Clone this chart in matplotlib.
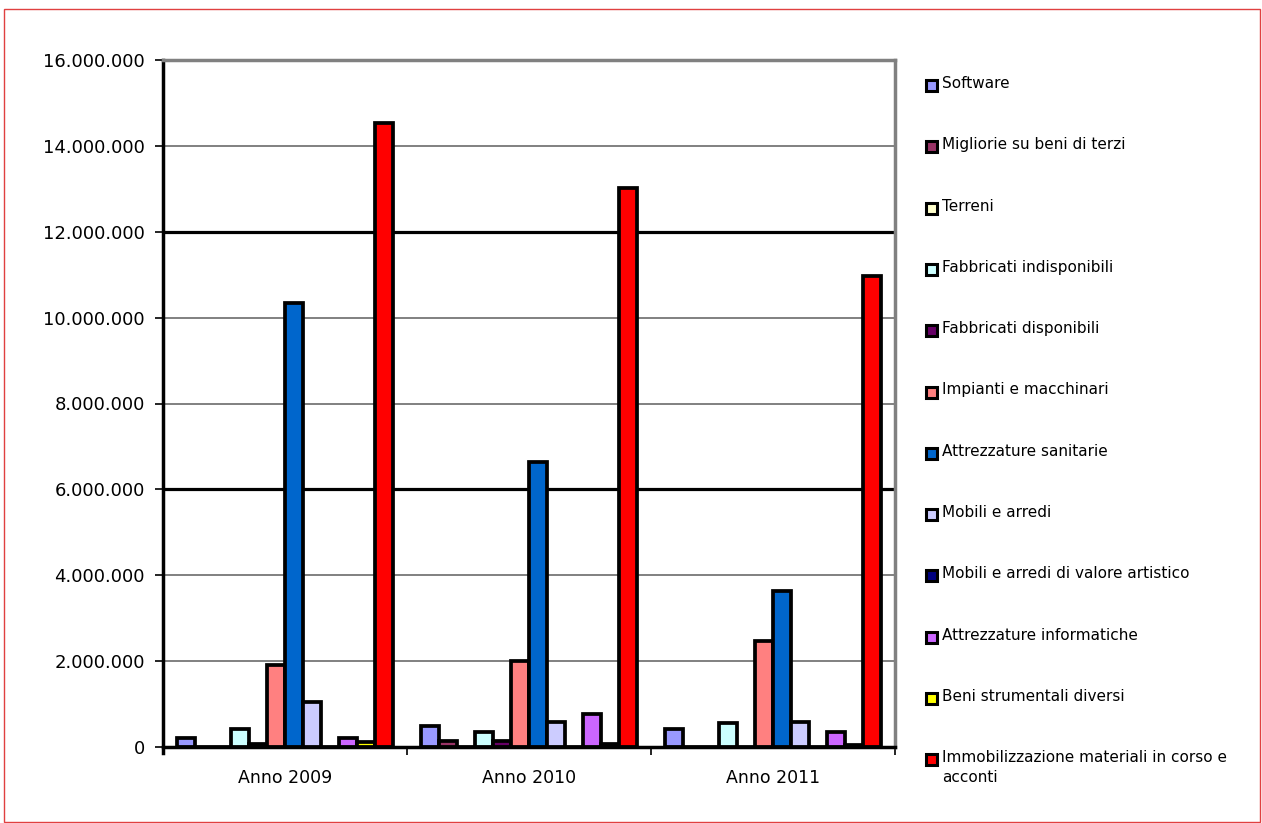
import matplotlib
matplotlib.use("Agg")
import matplotlib.pyplot as plt
from matplotlib.patches import Rectangle
from matplotlib.ticker import FuncFormatter, MultipleLocator
import numpy as np

years = ["Anno 2009", "Anno 2010", "Anno 2011"]

series = [
    "Software",
    "Migliorie su beni di terzi",
    "Terreni",
    "Fabbricati indisponibili",
    "Fabbricati disponibili",
    "Impianti e macchinari",
    "Attrezzature sanitarie",
    "Mobili e arredi",
    "Mobili e arredi di valore artistico",
    "Attrezzature informatiche",
    "Beni strumentali diversi",
    "Immobilizzazione materiali in corso e\nacconti",
]

colors = ["#9999FF", "#993366", "#FFFFCC", "#CCFFFF", "#660066", "#FF8080",
          "#0066CC", "#CCCCFF", "#000080", "#CC66FF", "#FFFF00", "#FF0000"]

values_2009 = [220000, 10000, 0, 410000, 60000, 1900000, 10330000, 1040000, 0, 200000, 110000, 14540000]
values_2010 = [480000, 130000, 0, 360000, 130000, 2010000, 6630000, 590000, 0, 780000, 60000, 13030000]
values_2011 = [410000, 10000, 0, 550000, 10000, 2480000, 3640000, 590000, 0, 340000, 50000, 10960000]

data = np.array([values_2009, values_2010, values_2011]).T  # series x years

W, H, DPI = 1262, 823, 100
fig = plt.figure(figsize=(W / DPI, H / DPI), dpi=DPI)
plt.rcParams["font.family"] = "DejaVu Sans"

# outer frame
fig.patches.append(Rectangle((4 / W, 1 - 822 / H), (1260 - 4) / W, (822 - 9) / H,
                             transform=fig.transFigure, fill=False,
                             edgecolor="#E04040", linewidth=1.0))

ax = fig.add_axes([163 / W, 1 - 747 / H, (895 - 163) / W, (747 - 60) / H])

x = np.arange(len(years))
n = len(series)
bw = 18 / 244
for i in range(n):
    ax.bar(x + (i - (n - 1) / 2) * bw, data[i], width=bw, color=colors[i],
           edgecolor="black", linewidth=2.7, zorder=3)

ax.set_xlim(-0.5, 2.5)
ax.set_ylim(0, 16000000)
ax.yaxis.set_major_locator(MultipleLocator(2000000))
ax.yaxis.set_major_formatter(FuncFormatter(lambda v, p: f"{int(v):,}".replace(",", ".")))

# horizontal gridlines
for yv in range(2000000, 16000000, 2000000):
    if yv in (6000000, 12000000):
        ax.axhline(yv, color="black", linewidth=2.3, zorder=1)
    else:
        ax.axhline(yv, color="#808080", linewidth=1.4, zorder=1)

ax.spines["left"].set_color("black")
ax.spines["left"].set_linewidth(2.5)
ax.spines["left"].set_bounds(-150000, 16000000)
ax.spines["bottom"].set_color("black")
ax.spines["bottom"].set_linewidth(2.5)
ax.spines["bottom"].set_zorder(4)
ax.spines["top"].set_color("#808080")
ax.spines["top"].set_linewidth(2.5)
ax.spines["right"].set_color("#808080")
ax.spines["right"].set_linewidth(2.5)

ax.set_xticks([-0.5, 0.5, 1.5, 2.5])
ax.set_xticklabels([])
ax.set_xticks(x, minor=True)
ax.set_xticklabels(years, minor=True, fontsize=12.5)
ax.tick_params(axis="x", which="minor", length=0, pad=16)
ax.tick_params(axis="x", which="major", length=6, width=1.2, direction="out")
ax.tick_params(axis="y", length=6, width=1.2, direction="out", labelsize=13, pad=7)

# legend
for i, (label, col) in enumerate(zip(series, colors)):
    yc = 85 + i * 61.3
    fig.patches.append(Rectangle((926 / W, 1 - (yc + 6) / H), 11 / W, 11 / H,
                                 transform=fig.transFigure, facecolor=col,
                                 edgecolor="black", linewidth=2.2))
    fig.text(942 / W, 1 - (yc - 9) / H, label, fontsize=11, va="top", ha="left",
             linespacing=1.35)

fig.savefig("out.png", dpi=DPI)
